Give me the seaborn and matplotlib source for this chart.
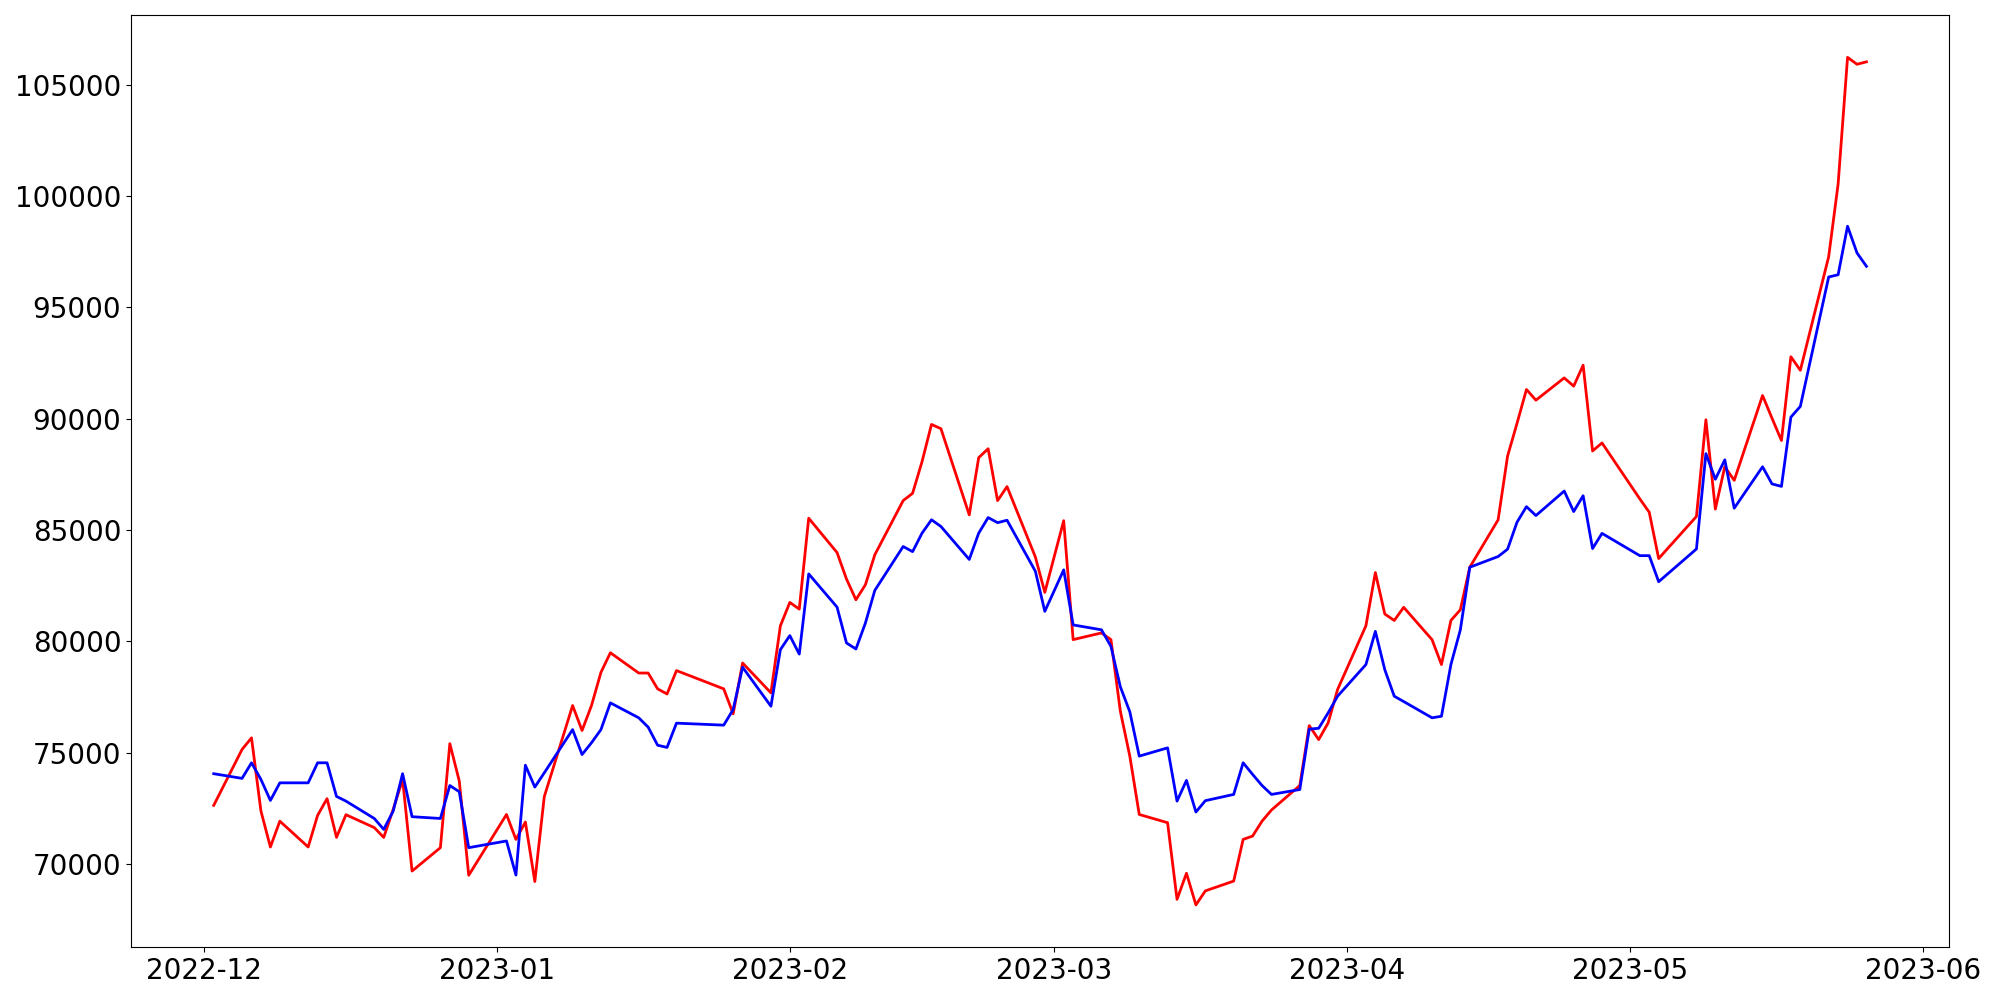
import pandas as pd
import matplotlib.pyplot as plt
import seaborn as sns

# trading days, Dec 2022 - May 2023
dates = pd.to_datetime([
    "2022-12-02", "2022-12-05", "2022-12-06", "2022-12-07", "2022-12-08", "2022-12-09",
    "2022-12-12", "2022-12-13", "2022-12-14", "2022-12-15", "2022-12-16",
    "2022-12-19", "2022-12-20", "2022-12-21", "2022-12-22", "2022-12-23",
    "2022-12-26", "2022-12-27", "2022-12-28", "2022-12-29",
    "2023-01-02", "2023-01-03", "2023-01-04", "2023-01-05", "2023-01-06",
    "2023-01-09", "2023-01-10", "2023-01-11", "2023-01-12", "2023-01-13",
    "2023-01-16", "2023-01-17", "2023-01-18", "2023-01-19", "2023-01-20",
    "2023-01-25", "2023-01-26", "2023-01-27", "2023-01-30", "2023-01-31",
    "2023-02-01", "2023-02-02", "2023-02-03", "2023-02-06", "2023-02-07",
    "2023-02-08", "2023-02-09", "2023-02-10", "2023-02-13", "2023-02-14",
    "2023-02-15", "2023-02-16", "2023-02-17", "2023-02-20", "2023-02-21",
    "2023-02-22", "2023-02-23", "2023-02-24", "2023-02-27", "2023-02-28",
    "2023-03-02", "2023-03-03", "2023-03-06", "2023-03-07", "2023-03-08",
    "2023-03-09", "2023-03-10", "2023-03-13", "2023-03-14", "2023-03-15",
    "2023-03-16", "2023-03-17", "2023-03-20", "2023-03-21", "2023-03-22",
    "2023-03-23", "2023-03-24", "2023-03-27", "2023-03-28", "2023-03-29",
    "2023-03-30", "2023-03-31",
    "2023-04-03", "2023-04-04", "2023-04-05", "2023-04-06", "2023-04-07",
    "2023-04-10", "2023-04-11", "2023-04-12", "2023-04-13", "2023-04-14",
    "2023-04-17", "2023-04-18", "2023-04-19", "2023-04-20", "2023-04-21",
    "2023-04-24", "2023-04-25", "2023-04-26", "2023-04-27", "2023-04-28",
    "2023-05-02", "2023-05-03", "2023-05-04", "2023-05-08", "2023-05-09",
    "2023-05-10", "2023-05-11", "2023-05-12", "2023-05-15", "2023-05-16",
    "2023-05-17", "2023-05-18", "2023-05-19", "2023-05-22", "2023-05-23",
    "2023-05-24", "2023-05-25", "2023-05-26",
])

# red line (actual)
red_values = [
    72640, 75150, 75670, 72380, 70770, 71930, 70770, 72190, 72940, 71200,
    72220, 71640, 71200, 72460, 73800, 69690, 70740, 75410, 73730, 69500,
    72230, 71110, 71890, 69220, 73030, 77120, 76000, 77120, 78610, 79490,
    78580, 78580, 77870, 77640, 78690, 77870, 76750, 79030, 77690, 80700,
    81750, 81450, 85530, 83990, 82800, 81870, 82540, 83890, 86320, 86650,
    88070, 89740, 89550, 85680, 88250, 88650, 86320, 86950, 83790, 82200,
    85420, 80080, 80380, 80080, 76860, 74850, 72230, 71860, 68420, 69590,
    68170, 68800, 69240, 71110, 71260, 71930, 72430, 73530, 76220, 75590,
    76340, 77840,
    80700, 83090, 81230, 80940, 81530, 80080, 78960, 80940, 81420, 83330,
    85460, 88320, 89790, 91310, 90830, 91830, 91460, 92400, 88550, 88910,
    86400, 85800, 83720, 85610, 89950, 85940, 87840, 87230, 91040, 90020,
    89020, 92780, 92170, 97270, 100530, 106220, 105910, 106020,
]

# blue line (predicted)
blue_values = [
    74060, 73850, 74550, 73800, 72860, 73650, 73650, 74550, 74550, 73040,
    72830, 72050, 71560, 72380, 74060, 72130, 72050, 73530, 73250, 70740,
    71040, 69510, 74440, 73460, 74100, 76040, 74920, 75450, 76040, 77240,
    76570, 76150, 75340, 75240, 76330, 76240, 76940, 78840, 77090, 79630,
    80260, 79430, 83030, 81540, 79930, 79660, 80820, 82290, 84260, 84030,
    84860, 85460, 85160, 83680, 84860, 85560, 85330, 85440, 83150, 81350,
    83210, 80740, 80520, 79780, 77960, 76840, 74850, 75220, 72830, 73760,
    72340, 72850, 73130, 74550, 74030, 73530, 73130, 73350, 76060, 76100,
    76790, 77540,
    78960, 80450, 78730, 77540, 77300, 76570, 76640, 78960, 80520, 83330,
    83810, 84140, 85350, 86050, 85650, 86750, 85830, 86540, 84170, 84850,
    83850, 83850, 82680, 84150, 88430, 87280, 88150, 85980, 87840, 87070,
    86960, 90070, 90550, 96360, 96460, 98640, 97440, 96840,
]

fig, ax = plt.subplots(figsize=(20, 10), dpi=100)
sns.lineplot(x=dates, y=red_values, color="red", linewidth=2, ax=ax)
sns.lineplot(x=dates, y=blue_values, color="blue", linewidth=2, ax=ax)

ax.set_xlabel("")
ax.set_ylabel("")
ax.tick_params(labelsize=20)

plt.tight_layout()
plt.savefig("out.png")
